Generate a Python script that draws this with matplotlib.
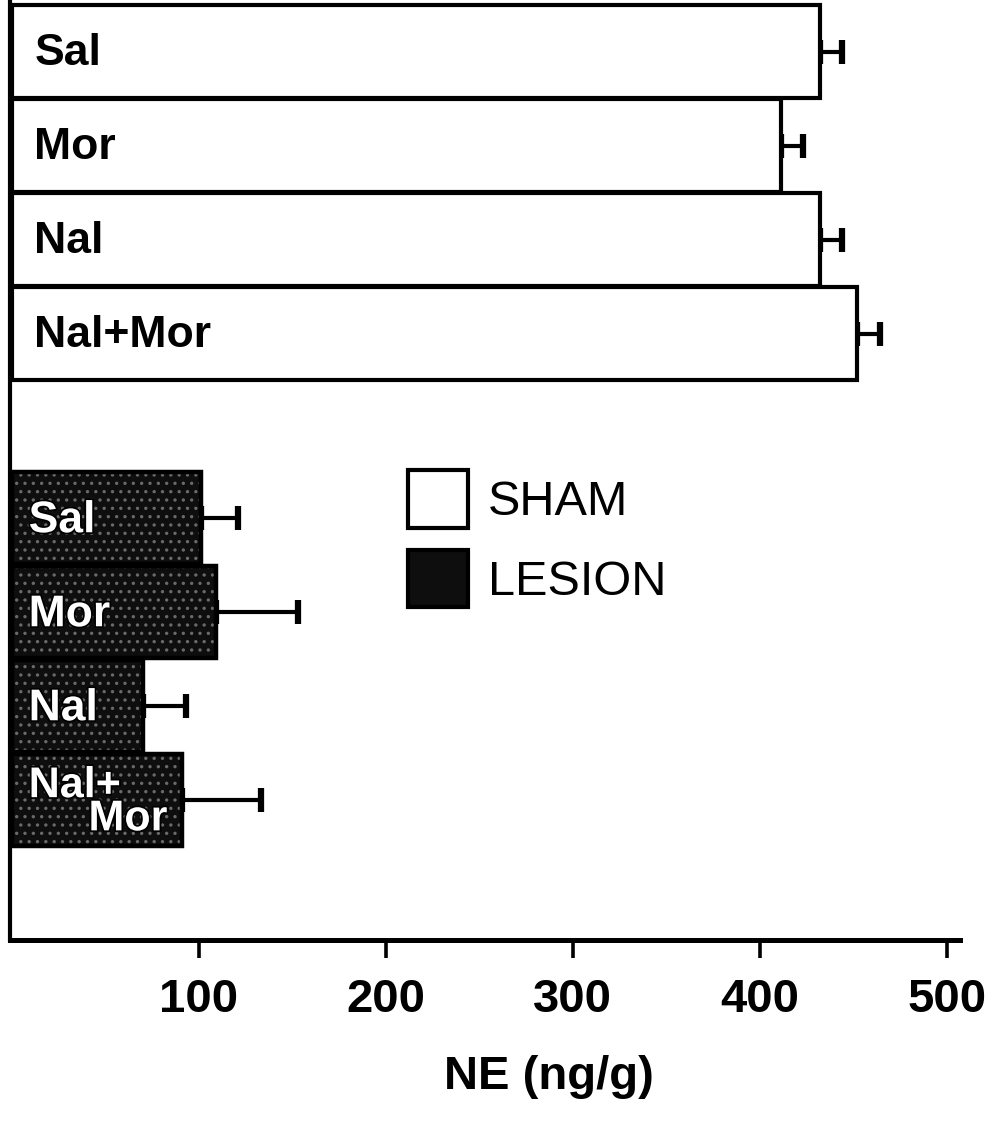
import matplotlib
matplotlib.use("Agg")
import matplotlib.pyplot as plt
import matplotlib.patheffects as pe
from matplotlib.patches import Patch

plt.rcParams['font.family'] = ['Liberation Sans', 'DejaVu Sans']

# data (NE in ng/g, mean and SEM)
groups = ['Sal', 'Mor', 'Nal', 'Nal+Mor']
sham_labels = ['Sal', 'Mor', 'Nal', 'Nal+Mor']
lesion_labels = ['Sal', 'Mor', 'Nal', 'Nal+\n     Mor']
sham_ne = [432, 411, 432, 452]
sham_sem = [12, 12, 12, 12]
lesion_ne = [101, 109, 70, 91]
lesion_sem = [20, 44, 23, 42]
xticks = [100, 200, 300, 400, 500]

sham_pos = [0, 1, 2, 3]
lesion_pos = [4.96, 5.96, 6.96, 7.96]

fig = plt.figure(figsize=(9.97, 11.24), dpi=100)
ax = fig.add_axes([0.010, 0.1637, 0.953, 0.8363])

# sham bars (open)
ax.barh(sham_pos, sham_ne, height=0.99, color='white', edgecolor='black',
        linewidth=3.0, zorder=2)
ax.errorbar(sham_ne, sham_pos, xerr=[[0] * 4, sham_sem], fmt='none',
            ecolor='black', elinewidth=3.0, capsize=8.5, capthick=4.5, zorder=1)

# lesion bars (dark stipple)
plt.rcParams['hatch.color'] = '#6a6a6a'
plt.rcParams['hatch.linewidth'] = 1.2
ax.barh(lesion_pos, lesion_ne, height=0.97, color='#0e0e0e', edgecolor='#6a6a6a',
        hatch='..', linewidth=0, zorder=2)
ax.barh(lesion_pos, lesion_ne, height=0.97, color='none', edgecolor='black',
        linewidth=3.2, zorder=3)
ax.errorbar(lesion_ne, lesion_pos, xerr=[[0] * 4, lesion_sem], fmt='none',
            ecolor='black', elinewidth=3.0, capsize=8.5, capthick=4.5, zorder=1)

for y, lab in zip(sham_pos, sham_labels):
    ax.text(12, y + 0.02, lab, ha='left', va='center', fontsize=32,
            fontweight='bold', zorder=4)

for y, lab in zip(lesion_pos, lesion_labels):
    two = '\n' in lab
    ax.text(9, y + 0.03, lab, ha='left', va='center', fontsize=31 if two else 32,
            fontweight='bold', color='white', linespacing=0.78, zorder=4,
            path_effects=[pe.withStroke(linewidth=2.5, foreground='black')])

ax.set_xlim(-1, 507)
ax.set_ylim(9.45, -0.55)

ax.spines['top'].set_visible(False)
ax.spines['right'].set_visible(False)
ax.spines['left'].set_linewidth(3.0)
ax.spines['bottom'].set_linewidth(3.6)

ax.set_yticks([])
ax.set_xticks(xticks)
ax.set_xticklabels([str(t) for t in xticks], fontweight='bold')
ax.tick_params(axis='x', direction='out', length=13, width=2.6, pad=14,
               labelsize=34)
ax.set_xlabel('NE (ng/g)', fontsize=34, fontweight='bold', labelpad=24)
ax.xaxis.label.set_x(0.567)

handles = [Patch(facecolor='white', edgecolor='black', linewidth=3.0),
           Patch(facecolor='#0e0e0e', edgecolor='black', linewidth=3.0)]
leg = ax.legend(handles, ['SHAM', 'LESION'], loc='upper left',
                bbox_to_anchor=(0.419, 0.5), frameon=False,
                prop={'family': 'Liberation Sans', 'size': 35},
                handlelength=1.24, handleheight=1.45, handletextpad=0.4,
                labelspacing=0.45, borderaxespad=0, borderpad=0)

fig.savefig('out.png', dpi=100)
